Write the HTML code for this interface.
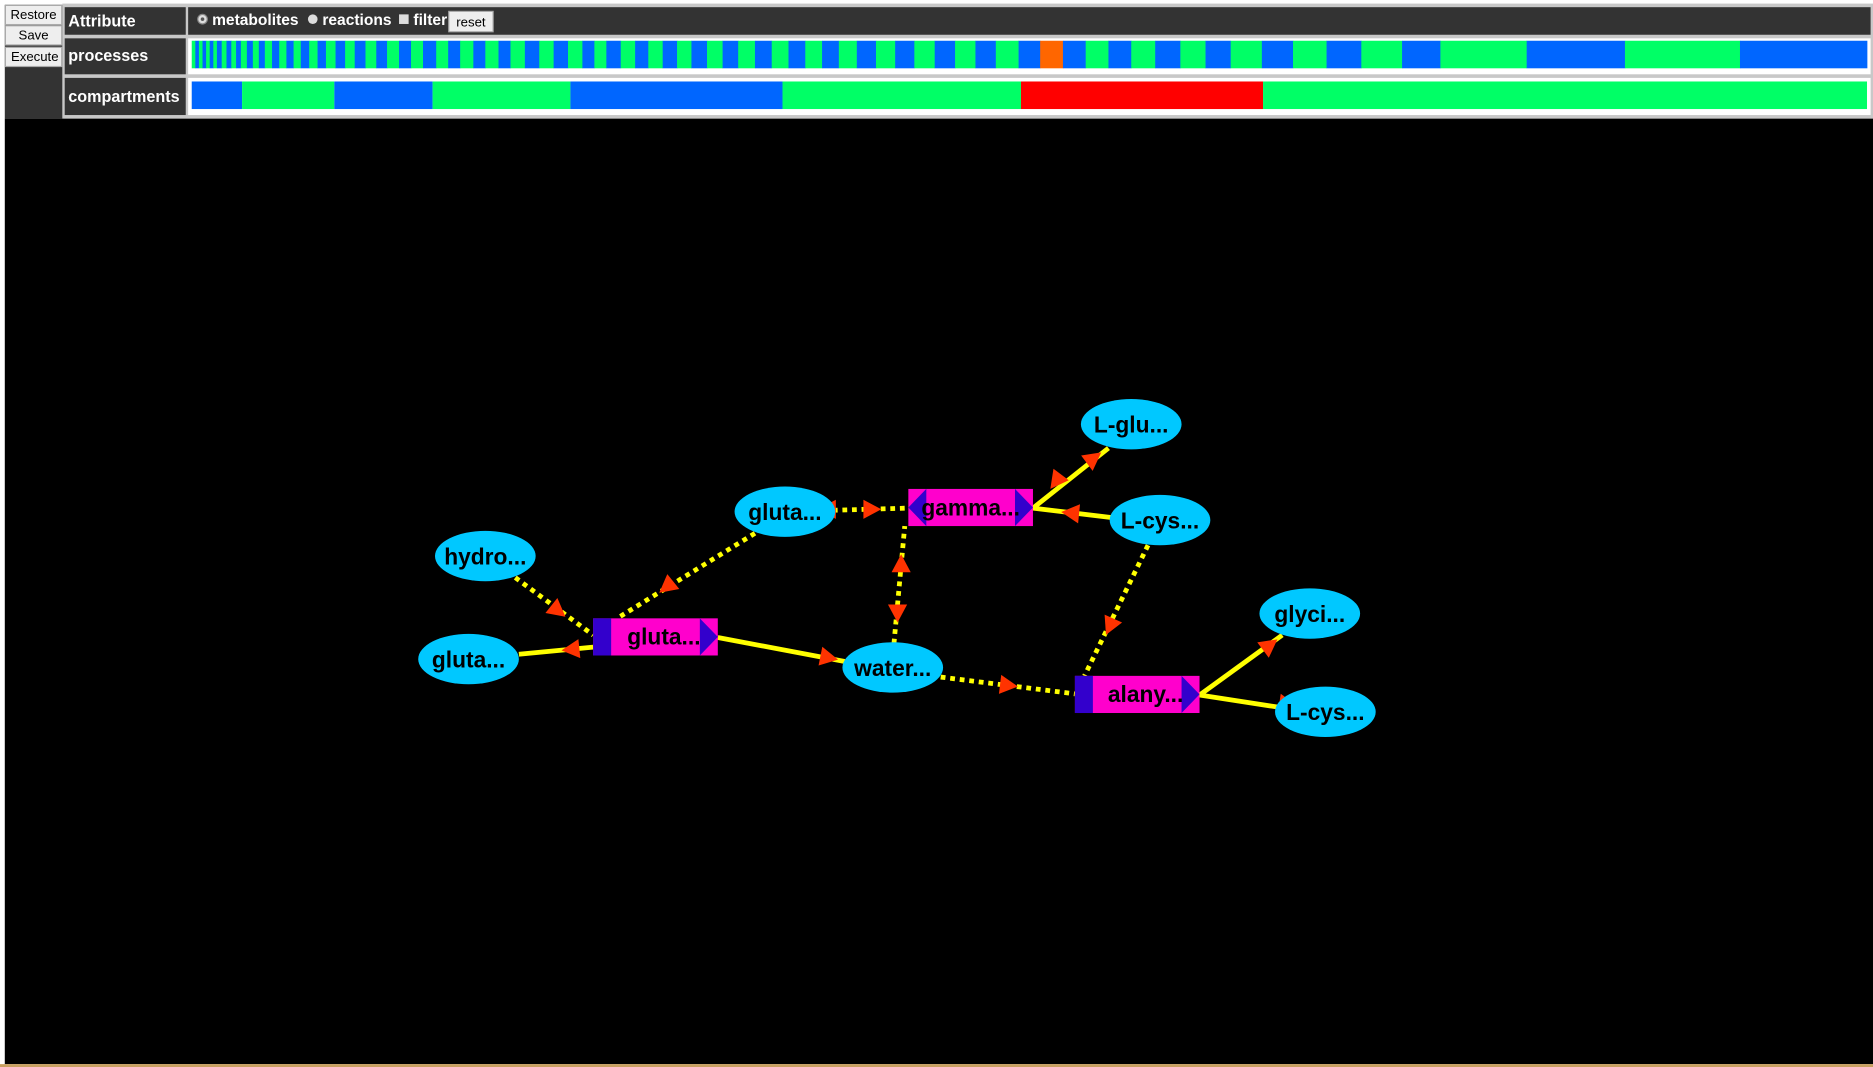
<!DOCTYPE html>
<html><head><meta charset="utf-8"><style>
html,body{margin:0;padding:0;background:#fff;width:1873px;height:1067px;overflow:hidden}
svg{display:block}
text{font-family:"Liberation Sans",Arial,sans-serif}
</style></head><body>
<svg id="s" width="1873" height="1067" viewBox="0 0 1563 890.4" preserveAspectRatio="none" xmlns="http://www.w3.org/2000/svg">
<rect x="0" y="0" width="1563" height="891" fill="#fff"/>
<!-- left buttons -->
<rect x="4" y="4" width="49" height="95" fill="#333"/>
<rect x="4.5" y="4.5" width="47" height="16" fill="#eee" stroke="#aaa"/>
<text x="28" y="16" font-size="11" text-anchor="middle" fill="#000">Restore</text>
<rect x="4.5" y="21.5" width="47" height="16" fill="#eee" stroke="#aaa"/>
<text x="28" y="33" font-size="11" text-anchor="middle" fill="#000">Save</text>
<rect x="4.5" y="39.5" width="47" height="16" fill="#eee" stroke="#aaa"/>
<text x="29" y="51" font-size="11" text-anchor="middle" fill="#000">Execute</text>
<!-- panel -->
<rect x="52" y="3" width="1511" height="96" fill="#c8c8c8"/>
<rect x="54" y="6" width="101" height="23" fill="#333"/>
<rect x="157" y="6" width="1404" height="23" fill="#333"/>
<rect x="54" y="32" width="101" height="30" fill="#333"/>
<rect x="157" y="32" width="1404" height="30" fill="#fff"/>
<rect x="54" y="65" width="101" height="31" fill="#333"/>
<rect x="157" y="65" width="1404" height="31" fill="#fff"/>
<text x="57" y="22" font-size="13.5" font-weight="bold" fill="#fff">Attribute</text>
<text x="57" y="51" font-size="13.5" font-weight="bold" fill="#fff">processes</text>
<text x="57" y="85" font-size="13.5" font-weight="bold" fill="#fff">compartments</text>
<circle cx="169" cy="16" r="4" fill="#ddd" stroke="#888"/><circle cx="169" cy="16" r="1.5" fill="#555"/>
<text x="177" y="21" font-size="13" font-weight="bold" fill="#fff">metabolites</text>
<circle cx="261" cy="16" r="4" fill="#ddd"/>
<text x="269" y="21" font-size="13" font-weight="bold" fill="#fff">reactions</text>
<rect x="333" y="12" width="8" height="8" fill="#ddd"/>
<text x="345" y="21" font-size="13" font-weight="bold" fill="#fff">filter</text>
<rect x="374.5" y="9.5" width="37" height="17" fill="#eee" stroke="#aaa"/>
<text x="393" y="22" font-size="11" text-anchor="middle" fill="#000">reset</text>
<g id="proc"></g>
<rect x="160" y="68" width="42" height="23" fill="#0066ff"/>
<rect x="202" y="68" width="77" height="23" fill="#00ff66"/>
<rect x="279" y="68" width="82" height="23" fill="#0066ff"/>
<rect x="361" y="68" width="115" height="23" fill="#00ff66"/>
<rect x="476" y="68" width="177" height="23" fill="#0066ff"/>
<rect x="653" y="68" width="199" height="23" fill="#00ff66"/>
<rect x="852" y="68" width="202" height="23" fill="#ff0000"/>
<rect x="1054" y="68" width="504" height="23" fill="#00ff66"/>
<!-- canvas -->
<rect x="4" y="99" width="1559" height="789" fill="#000"/>
<rect x="0" y="888" width="1563" height="3" fill="#c8a060"/>
<g id="edges"></g>
<g id="nodes"></g>
</svg>
<script>
var NS="http://www.w3.org/2000/svg";
function el(p,t,a,txt){var e=document.createElementNS(NS,t);for(var k in a)e.setAttribute(k,a[k]);if(txt)e.textContent=txt;document.getElementById(p).appendChild(e);return e;}
var b=[160,163,166,169,172,175,178,181,185,189,193,197,201,206,211,216,221,227,233,239,245,251,258,265,272,280,288,296,305,314,323,333,343,353,364,374,384,395,405,416,426,438,450,462,474,486,496,506,518,530,541,553,565,577,590,603,616,630,644,658,672,686,700,715,731,747,763,780,797,814,831,850,868,887,906,925,944,964,985,1006,1027,1053,1079,1107,1136,1170,1202,1274,1356,1452,1558];
var n=b.length-1;
for(var i=0;i<n;i++){var c=((n-1-i)%2==0)?"#0066ff":"#00ff66";if(b[i]==868)c="#ff6600";
el("proc","rect",{x:b[i],y:34,width:b[i+1]-b[i]+0.3,height:23,fill:c});}
function line(x1,y1,x2,y2,dot){var a={x1:x1,y1:y1,x2:x2,y2:y2,stroke:"#ffff00","stroke-width":4};if(dot)a["stroke-dasharray"]="4 4";el("edges","line",a);}
function arr(x,y,dx,dy){var L=Math.hypot(dx,dy);dx/=L;dy/=L;var l=15,w=8;
var p=[[x+dx*l/2,y+dy*l/2],[x-dx*l/2-dy*w,y-dy*l/2+dx*w],[x-dx*l/2+dy*w,y-dy*l/2-dx*w]];
el("edges","polygon",{points:p.map(function(q){return q.join(",")}).join(" "),fill:"#ff3300"});}
// edges
line(655,427,758,424,1);arr(728,425,1,0);arr(690,425,-1,0);
line(630,445,515,516,1);arr(556,490,-1,0.8);
line(430,482,495,530,1);arr(466,510,1,0.8);
line(433,546,495,540,0);arr(476,542,-1,0.1);
line(599,532,705,552,0);arr(692,549,1,0.2);
line(746,537,755,439,1);arr(752,470,0,-1);arr(749,512,0,1);
line(785,565,897,579,1);arr(842,572,1,0.12);
line(958,455,905,564,1);arr(926,523,-0.45,1);
line(862,424,925,374,0);arr(913,382,0.8,-0.6);arr(881,402,-0.6,0.8);
line(928,432,862,424,0);arr(893,428,-1,-0.1);
line(1001,580,1070,530,0);arr(1060,538,0.8,-0.6);
line(1001,580,1066,590,0);arr(1075,588,1,0.15);
// nodes
function ell(cx,cy,t){el("nodes","ellipse",{cx:cx,cy:cy,rx:42,ry:21,fill:"#00c8ff"});
el("nodes","text",{x:cx,y:cy+7,"font-size":19,"font-weight":"bold","text-anchor":"middle",fill:"#000"},t);}
function box(x,y,t,left){el("nodes","rect",{x:x,y:y,width:104,height:31,fill:"#ff00cc"});
if(left)el("nodes","rect",{x:x,y:y,width:15,height:31,fill:"#3300cc"});
else el("nodes","polygon",{points:(x+15)+","+y+" "+x+","+(y+15.5)+" "+(x+15)+","+(y+31),fill:"#3300cc"});
el("nodes","polygon",{points:(x+89)+","+y+" "+(x+104)+","+(y+15.5)+" "+(x+89)+","+(y+31),fill:"#3300cc"});
el("nodes","text",{x:x+(left?59:52),y:y+22,"font-size":19,"font-weight":"bold","text-anchor":"middle",fill:"#000"},t);}
ell(944,354,"L-glu...");ell(655,427,"gluta...");ell(968,434,"L-cys...");ell(405,464,"hydro...");
ell(391,550,"gluta...");ell(745,557,"water...");ell(1093,512,"glyci...");ell(1106,594,"L-cys...");
box(758,408,"gamma...",false);box(495,516,"gluta...",true);box(897,564,"alany...",true);
</script>
</body></html>
